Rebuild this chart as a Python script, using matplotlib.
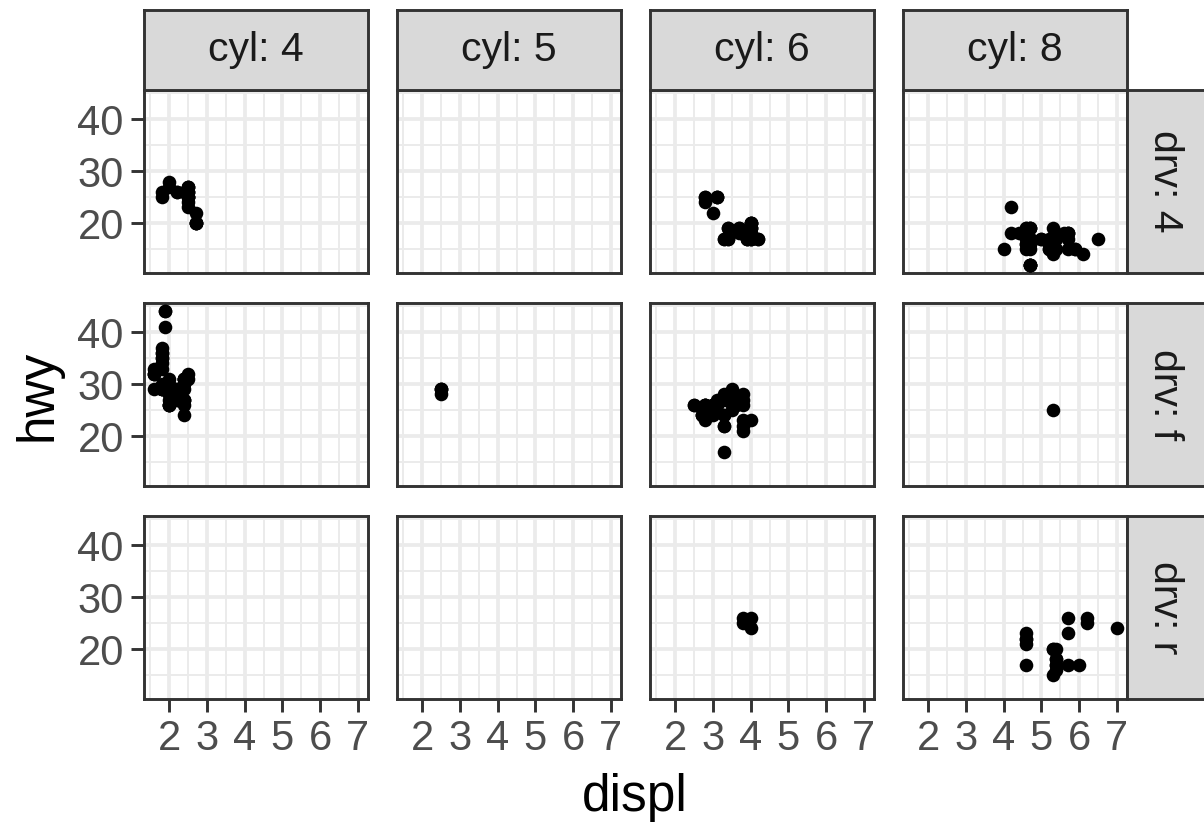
import matplotlib
matplotlib.use("Agg")
import matplotlib.pyplot as plt

plt.rcParams['font.family'] = ['Liberation Sans', 'DejaVu Sans']

# fuel economy data: engine displacement, highway mpg, cylinders, drive train
displ = [1.8, 1.8, 2.0, 2.0, 2.8, 2.8, 3.1,
         1.8, 1.8, 2.0, 2.0, 2.8, 2.8, 3.1, 3.1,
         2.8, 3.1, 4.2,
         5.3, 5.3, 5.3, 5.7, 6.0,
         5.7, 5.7, 6.2, 6.2, 7.0,
         5.3, 5.3, 5.7, 6.5,
         2.4, 2.4, 3.1, 3.5, 3.6,
         2.4, 3.0, 3.3, 3.3, 3.3, 3.3, 3.3, 3.8, 3.8, 3.8, 4.0,
         3.7, 3.7, 3.9, 3.9, 4.7, 4.7, 4.7, 5.2, 5.2,
         3.9, 4.7, 4.7, 4.7, 5.2, 5.7, 5.9,
         4.7, 4.7, 4.7, 4.7, 4.7, 4.7, 5.2, 5.2, 5.7, 5.9,
         4.6, 5.4, 5.4,
         4.0, 4.0, 4.0, 4.0, 4.6, 5.0,
         4.2, 4.2, 4.6, 4.6, 4.6, 5.4, 5.4,
         3.8, 3.8, 4.0, 4.0, 4.6, 4.6, 4.6, 4.6, 5.4,
         1.6, 1.6, 1.6, 1.6, 1.6, 1.8, 1.8, 1.8, 2.0,
         2.4, 2.4, 2.4, 2.4, 2.5, 2.5, 3.3,
         2.0, 2.0, 2.0, 2.0, 2.7, 2.7, 2.7,
         3.0, 3.7, 4.0, 4.7, 4.7, 4.7, 5.7, 6.1,
         4.0, 4.2, 4.4, 4.6,
         5.4, 5.4, 5.4,
         4.0, 4.0, 4.6, 5.0,
         2.4, 2.4, 2.5, 2.5, 3.5, 3.5,
         3.0, 3.0, 3.5,
         3.3, 3.3, 4.0, 5.6,
         3.1, 3.8, 3.8, 3.8, 5.3,
         2.5, 2.5, 2.5, 2.5, 2.5, 2.5,
         2.2, 2.2, 2.5, 2.5, 2.5, 2.5, 2.5, 2.5,
         2.7, 2.7, 3.4, 3.4, 4.0, 4.7,
         2.2, 2.2, 2.4, 2.4, 3.0, 3.0, 3.5,
         2.2, 2.2, 2.4, 2.4, 3.0, 3.0, 3.3,
         1.8, 1.8, 1.8, 1.8, 1.8,
         4.7, 5.7,
         2.7, 2.7, 2.7, 3.4, 3.4, 4.0, 4.0,
         2.0, 2.0, 2.0, 2.0, 2.8,
         1.9, 2.0, 2.0, 2.0, 2.0, 2.5, 2.5, 2.8, 2.8,
         1.9, 1.9, 2.0, 2.0, 2.5, 2.5,
         1.8, 1.8, 2.0, 2.0, 2.8, 2.8, 3.6]

hwy = [29, 29, 31, 30, 26, 26, 27,
       26, 25, 28, 27, 25, 25, 25, 25,
       24, 25, 23,
       20, 15, 20, 17, 17,
       26, 23, 26, 25, 24,
       19, 14, 15, 17,
       27, 30, 26, 29, 26,
       24, 24, 22, 22, 24, 24, 17, 22, 21, 23, 23,
       19, 18, 17, 17, 19, 19, 12, 17, 15,
       17, 17, 12, 17, 16, 18, 15,
       16, 12, 17, 17, 16, 12, 15, 16, 17, 15,
       17, 17, 18,
       17, 19, 17, 19, 19, 17,
       17, 17, 16, 16, 17, 15, 17,
       26, 25, 26, 24, 21, 22, 23, 22, 20,
       33, 32, 32, 29, 32, 34, 36, 36, 29,
       26, 27, 30, 31, 26, 26, 28,
       26, 29, 28, 27, 24, 24, 24,
       22, 19, 20, 17, 12, 19, 18, 14,
       15, 18, 18, 15,
       17, 16, 18,
       17, 19, 19, 17,
       29, 27, 31, 32, 27, 26,
       26, 25, 25,
       17, 17, 20, 18,
       26, 26, 27, 28, 25,
       25, 24, 27, 25, 26, 23,
       26, 26, 26, 26, 25, 27, 25, 27,
       20, 20, 19, 17, 20, 17,
       29, 27, 31, 31, 26, 26, 28,
       27, 29, 31, 31, 26, 26, 27,
       30, 33, 35, 37, 35,
       15, 18,
       20, 20, 22, 17, 19, 18, 20,
       29, 26, 29, 29, 24,
       44, 29, 26, 29, 29, 29, 29, 23, 24,
       44, 41, 29, 26, 28, 29,
       29, 29, 28, 29, 26, 26, 26]

cyl = [4, 4, 4, 4, 6, 6, 6,
       4, 4, 4, 4, 6, 6, 6, 6,
       6, 6, 8,
       8, 8, 8, 8, 8,
       8, 8, 8, 8, 8,
       8, 8, 8, 8,
       4, 4, 6, 6, 6,
       4, 6, 6, 6, 6, 6, 6, 6, 6, 6, 6,
       6, 6, 6, 6, 8, 8, 8, 8, 8,
       6, 8, 8, 8, 8, 8, 8,
       8, 8, 8, 8, 8, 8, 8, 8, 8, 8,
       8, 8, 8,
       6, 6, 6, 6, 8, 8,
       6, 6, 8, 8, 8, 8, 8,
       6, 6, 6, 6, 8, 8, 8, 8, 8,
       4, 4, 4, 4, 4, 4, 4, 4, 4,
       4, 4, 4, 4, 6, 6, 6,
       4, 4, 4, 4, 6, 6, 6,
       6, 6, 6, 8, 8, 8, 8, 8,
       8, 8, 8, 8,
       8, 8, 8,
       6, 6, 8, 8,
       4, 4, 4, 4, 6, 6,
       6, 6, 6,
       6, 6, 6, 8,
       6, 6, 6, 6, 8,
       4, 4, 4, 4, 4, 4,
       4, 4, 4, 4, 4, 4, 4, 4,
       4, 4, 6, 6, 6, 8,
       4, 4, 4, 4, 6, 6, 6,
       4, 4, 4, 4, 6, 6, 6,
       4, 4, 4, 4, 4,
       8, 8,
       4, 4, 4, 6, 6, 6, 6,
       4, 4, 4, 4, 6,
       4, 4, 4, 4, 4, 5, 5, 6, 6,
       4, 4, 4, 4, 5, 5,
       4, 4, 4, 4, 6, 6, 6]

drv = list("fffffff" "44444444" "444" "rrrrr" "rrrrr" "4444" "fffff"
           "fffffffffff" "444444444" "4444444" "4444444444" "rrr" "444444"
           "4444444" "rrrrrrrrr" "fffffffff" "fffffff" "fffffff" "44444444"
           "4444" "rrr" "4444" "ffffff" "fff" "4444" "fffff" "444444"
           "44444444" "444444" "fffffff" "fffffff" "fffff" "44" "4444444"
           "fffff" "fffffffff" "ffffff" "fffffff")

cyl_levels = [4, 5, 6, 8]
drv_levels = ["4", "f", "r"]

x_major = [2, 3, 4, 5, 6, 7]
x_minor = [1.5, 2.5, 3.5, 4.5, 5.5, 6.5]
y_major = [20, 30, 40]
y_minor = [15, 25, 35, 45]

W, H = 1204, 826
fig = plt.figure(figsize=(W / 100, H / 100), dpi=100)


def box(left, top, width, height):
    return [left / W, 1 - (top + height) / H, width / W, height / H]


col_left = [144, 397, 650, 903]
row_top = [90, 303, 516]
pw, ph = 224, 183
border = "#333333"
lw_major = 2.1

# ggplot-style expanded limits (5% either side)
xlo, xhi = min(displ), max(displ)
ylo, yhi = min(hwy), max(hwy)
xpad = (xhi - xlo) * 0.05
ypad = (yhi - ylo) * 0.05

for r, d in enumerate(drv_levels):
    for c, cy in enumerate(cyl_levels):
        ax = fig.add_axes(box(col_left[c], row_top[r], pw, ph))
        ax.set_xlim(xlo - xpad, xhi + xpad)
        ax.set_ylim(ylo - ypad, yhi + ypad)
        ax.set_xticks(x_major)
        ax.set_xticks(x_minor, minor=True)
        ax.set_yticks(y_major)
        ax.set_yticks(y_minor, minor=True)
        ax.grid(True, which="major", color="#EBEBEB", lw=2.7)
        ax.grid(True, which="minor", color="#EBEBEB", lw=1.4)
        ax.set_axisbelow(True)
        for s in ax.spines.values():
            s.set_color(border)
            s.set_linewidth(lw_major)
        ax.tick_params(which="minor", length=0)
        ax.tick_params(which="major", length=9.5, width=lw_major, color=border,
                       labelsize=30, labelcolor="#4D4D4D", pad=5)
        if c > 0:
            ax.tick_params(left=False, labelleft=False)
        if r < len(drv_levels) - 1:
            ax.tick_params(bottom=False, labelbottom=False)

        xs = [x for x, cc, dd in zip(displ, cyl, drv) if cc == cy and dd == d]
        ys = [y for y, cc, dd in zip(hwy, cyl, drv) if cc == cy and dd == d]
        ax.plot(xs, ys, "o", color="black", ms=9.8, mew=0, zorder=3, clip_on=False)

# facet strips
for c, cy in enumerate(cyl_levels):
    sa = fig.add_axes(box(col_left[c], 10, pw, 80))
    sa.set_facecolor("#D9D9D9")
    sa.set_xticks([])
    sa.set_yticks([])
    for s in sa.spines.values():
        s.set_color(border)
        s.set_linewidth(lw_major)
    sa.text(0.5, 0.5, f"cyl: {cy}", ha="center", va="center",
            fontsize=29.5, color="#1A1A1A", transform=sa.transAxes)

for r, d in enumerate(drv_levels):
    sa = fig.add_axes(box(1127, row_top[r], 80, ph))
    sa.set_facecolor("#D9D9D9")
    sa.set_xticks([])
    sa.set_yticks([])
    for s in sa.spines.values():
        s.set_color(border)
        s.set_linewidth(lw_major)
    sa.text(0.475, 0.5, f"drv: {d}", ha="center", va="center", rotation=-90,
            fontsize=29.5, color="#1A1A1A", transform=sa.transAxes)

fig.text(635 / W, 1 - 797 / H, "displ", ha="center", va="center", fontsize=37)
fig.text(38 / W, 1 - 395 / H, "hwy", ha="center", va="center", rotation=90,
         fontsize=37)

fig.savefig("out.png", dpi=100)
